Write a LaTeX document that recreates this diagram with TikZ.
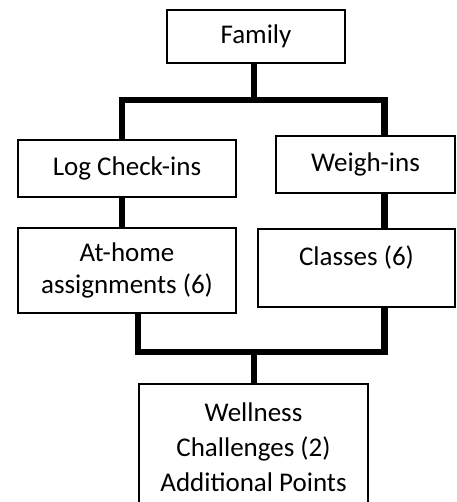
\documentclass[tikz,border=0pt]{standalone}
\usepackage{fontspec}
\setmainfont{Carlito}
\usetikzlibrary{positioning}
\tikzset{box/.style={draw, line width=1.3pt, align=center, inner sep=0pt,
  font=\fontsize{27}{32}\selectfont}}
\tikzset{link/.style={line width=6.5pt}}

\begin{document}
\begin{tikzpicture}[x=1pt,y=-1pt]
\useasboundingbox (0,0) rectangle (456,502);
% boxes
\node[box, minimum width=178pt, minimum height=53pt] (family) at (256,36.5) {Family};
\node[box, minimum width=218pt, minimum height=57pt] (log) at (127,168.5) {Log Check-ins};
\node[box, minimum width=179pt, minimum height=57pt] (weigh) at (365.5,164.5) {Weigh-ins};
\node[box, minimum width=218pt, minimum height=85pt] (home) at (127,270.5) {At-home\\assignments (6)};
\node[box, minimum width=197pt, text height=36pt, text depth=42pt] (classes) at (356.5,268) {Classes (6)};
\node[box, minimum width=229pt, minimum height=126pt, font=\fontsize{27}{35}\selectfont] (wellness) at (253.5,447) {Wellness\\Challenges (2)\\Additional Points};
% connectors
\coordinate (split) at (254,100);
\coordinate (lx) at (122,0);
\coordinate (rx) at (384.5,0);
\coordinate (hx) at (138,0);
\coordinate (merge) at (254,352);
\draw[link] (family.south -| split) -- (split);
\draw[link] (log.north -| lx) |- (split) -| (weigh.north -| rx);
\draw[link] (log.south -| lx) -- (home.north -| lx);
\draw[link] (weigh.south -| rx) -- (classes.north -| rx);
\draw[link] (home.south -| hx) |- (merge) -| (classes.south -| rx);
\draw[link] (merge) -- (merge |- wellness.north);
\end{tikzpicture}
\end{document}
